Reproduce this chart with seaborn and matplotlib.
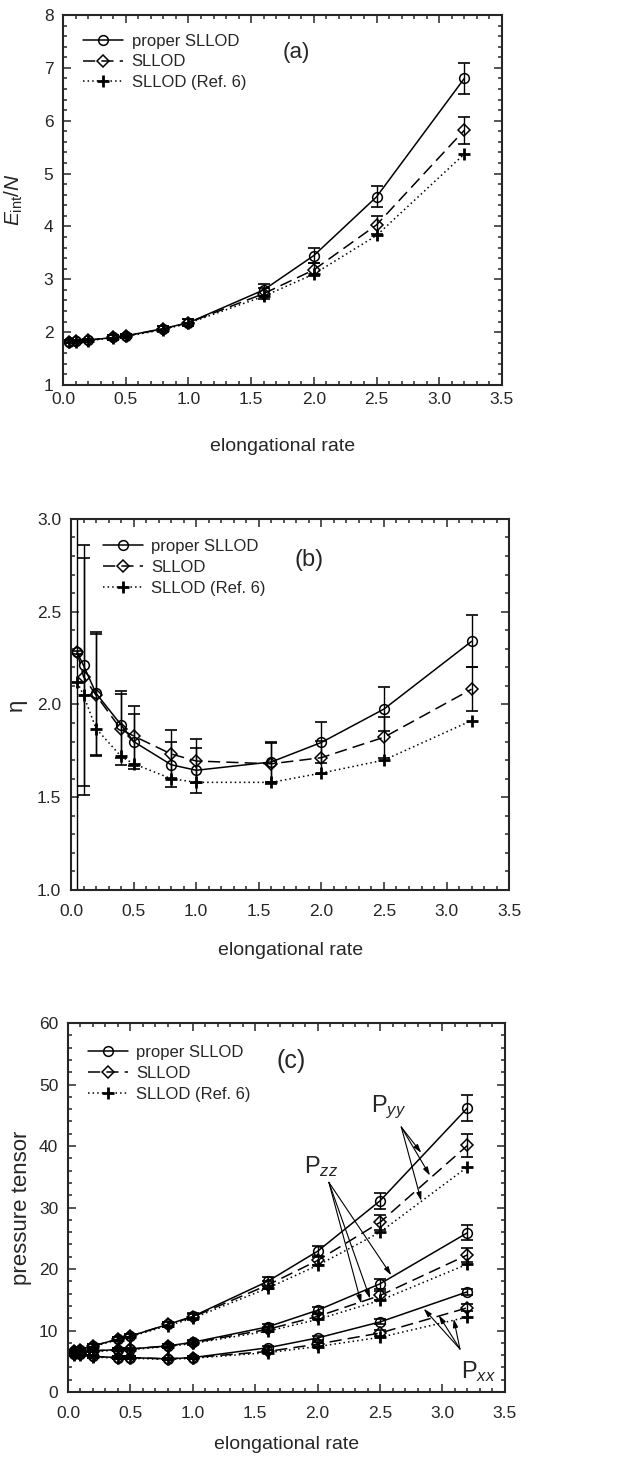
import numpy as np
import matplotlib
matplotlib.use('Agg')
import matplotlib.pyplot as plt
from matplotlib.ticker import MultipleLocator, FormatStrFormatter
import seaborn as sns

# elongational rates shared by every series
rate = [0.05, 0.1, 0.2, 0.4, 0.5, 0.8, 1.0, 1.6, 2.0, 2.5, 3.2]
series_names = ['proper SLLOD', 'SLLOD', 'SLLOD (Ref. 6)']

# (a) internal energy per molecule
e_proper = [1.82, 1.83, 1.85, 1.90, 1.93, 2.07, 2.18, 2.80, 3.45, 4.56, 6.80]
e_proper_err = [0.03, 0.03, 0.03, 0.04, 0.04, 0.05, 0.07, 0.12, 0.14, 0.20, 0.30]
e_sllod = [1.82, 1.83, 1.85, 1.90, 1.93, 2.06, 2.18, 2.73, 3.18, 4.03, 5.82]
e_sllod_err = [0.03, 0.03, 0.03, 0.04, 0.04, 0.05, 0.07, 0.10, 0.12, 0.17, 0.26]
e_ref6 = [1.81, 1.82, 1.84, 1.89, 1.92, 2.05, 2.17, 2.68, 3.10, 3.83, 5.37]

# (b) viscosity
eta_proper = [2.28, 2.21, 2.06, 1.89, 1.80, 1.675, 1.645, 1.69, 1.795, 1.975, 2.34]
eta_proper_err = [1.50, 0.65, 0.33, 0.18, 0.15, 0.12, 0.12, 0.11, 0.11, 0.12, 0.14]
eta_sllod = [2.28, 2.15, 2.05, 1.865, 1.83, 1.733, 1.695, 1.68, 1.713, 1.823, 2.082]
eta_sllod_err = [0.01, 0.64, 0.33, 0.19, 0.16, 0.13, 0.12, 0.11, 0.09, 0.11, 0.12]
eta_ref6 = [2.12, 2.05, 1.87, 1.72, 1.68, 1.60, 1.58, 1.58, 1.63, 1.70, 1.913]

# (c) pressure tensor components
pyy_proper = [6.7, 6.9, 7.5, 8.6, 9.1, 11.0, 12.3, 18.0, 22.9, 31.1, 46.2]
pyy_proper_err = [0.2, 0.2, 0.3, 0.3, 0.3, 0.4, 0.5, 0.7, 0.9, 1.3, 2.1]
pyy_sllod = [6.7, 6.9, 7.5, 8.6, 9.1, 11.0, 12.2, 17.4, 21.4, 27.6, 40.1]
pyy_sllod_err = [0.2, 0.2, 0.3, 0.3, 0.3, 0.4, 0.5, 0.6, 0.8, 1.2, 1.9]
pyy_ref6 = [6.6, 6.8, 7.4, 8.5, 9.0, 10.8, 12.0, 16.9, 20.6, 26.0, 36.6]

pzz_proper = [6.3, 6.4, 6.7, 6.9, 7.0, 7.5, 8.1, 10.6, 13.3, 17.6, 25.9]
pzz_proper_err = [0.2, 0.2, 0.2, 0.2, 0.2, 0.3, 0.3, 0.4, 0.6, 0.8, 1.2]
pzz_sllod = [6.3, 6.4, 6.7, 6.9, 7.0, 7.5, 8.0, 10.2, 12.3, 15.7, 22.3]
pzz_sllod_err = [0.2, 0.2, 0.2, 0.2, 0.2, 0.3, 0.3, 0.4, 0.5, 0.7, 1.1]
pzz_ref6 = [6.2, 6.3, 6.6, 6.8, 6.9, 7.4, 7.9, 9.9, 11.8, 14.9, 20.8]

pxx_proper = [6.2, 6.2, 5.8, 5.6, 5.6, 5.4, 5.6, 7.2, 8.8, 11.4, 16.3]
pxx_proper_err = [0.2, 0.2, 0.2, 0.2, 0.2, 0.2, 0.2, 0.3, 0.3, 0.4, 0.5]
pxx_sllod = [6.2, 6.2, 5.8, 5.6, 5.6, 5.4, 5.6, 6.6, 7.8, 9.6, 13.7]
pxx_sllod_err = [0.2, 0.2, 0.2, 0.2, 0.2, 0.2, 0.2, 0.3, 0.3, 0.5, 0.6]
pxx_ref6 = [6.1, 6.1, 5.7, 5.5, 5.5, 5.3, 5.5, 6.4, 7.4, 8.9, 12.2]

# annotation labels in (c): text, text position, arrow start, arrow tips
pyy_label = ('P$_{yy}$', (2.43, 46.3), (2.67, 43.1),
             [(2.83, 38.9), (2.90, 35.2), (2.83, 31.1)])
pzz_label = ('P$_{zz}$', (1.89, 36.6), (2.09, 34.1),
             [(2.59, 19.0), (2.42, 15.2), (2.35, 14.4)])
pxx_label = ('P$_{xx}$', (3.15, 3.3), (3.14, 7.0),
             [(2.85, 13.55), (2.97, 12.5), (3.09, 11.9)])

sns.set_style('ticks')
plt.rcParams['font.family'] = ['Liberation Sans', 'DejaVu Sans']
plt.rcParams['mathtext.fontset'] = 'custom'
plt.rcParams['mathtext.rm'] = 'Liberation Sans'
plt.rcParams['mathtext.it'] = 'Liberation Sans:italic'
plt.rcParams['axes.linewidth'] = 1.5

STYLES = [
    dict(linestyle='-', marker='o', markersize=7, mew=1.1),
    dict(linestyle=(0, (8, 4)), marker='D', markersize=6, mew=1.1),
    dict(linestyle=(0, (1, 2)), marker='+', markersize=8, mew=2.0),
]


def draw_group(ax, ys, errs, legend=True):
    """Draw the three simulation variants for one quantity."""
    for i, y in enumerate(ys):
        st = STYLES[i]
        label = series_names[i] if legend else '_nolegend_'
        sns.lineplot(x=rate, y=y, ax=ax, color='k', lw=1.1, errorbar=None,
                     linestyle=st['linestyle'], marker=st['marker'],
                     markersize=st['markersize'], mfc='none', mec='k',
                     mew=st['mew'], label=label)
        if errs[i] is not None:
            ax.errorbar(rate, y, yerr=errs[i], fmt='none', ecolor='k',
                        elinewidth=1.0, capsize=4.5, capthick=1.2)


def style_axes(ax, ylim, ymajor, yminor, xlabel_y, ylabel_x, pad):
    ax.set_xlim(0, 3.5)
    ax.set_ylim(*ylim)
    ax.xaxis.set_major_locator(MultipleLocator(0.5))
    ax.xaxis.set_minor_locator(MultipleLocator(0.1))
    ax.yaxis.set_major_locator(MultipleLocator(ymajor))
    ax.yaxis.set_minor_locator(MultipleLocator(yminor))
    ax.tick_params(which='both', direction='in', top=True, right=True,
                   labelsize=12.5, width=1.1)
    ax.tick_params(which='major', length=6)
    ax.tick_params(which='minor', length=3)
    ax.tick_params(axis='x', pad=pad)
    ax.tick_params(axis='y', pad=7)
    ax.xaxis.set_major_formatter(FormatStrFormatter('%.1f'))
    ax.set_xlabel('elongational rate', fontsize=14)
    ax.xaxis.set_label_coords(0.5, xlabel_y)
    ax.yaxis.set_label_coords(ylabel_x, 0.5)
    for sp in ax.spines.values():
        sp.set_visible(True)


def add_legend(ax, x0, y0):
    ax.legend(loc='upper left', bbox_to_anchor=(x0, y0), frameon=False,
              fontsize=12, handlelength=2.4, handletextpad=0.5,
              labelspacing=0.35, borderpad=0, borderaxespad=0)


fig = plt.figure(figsize=(6.25, 14.63), dpi=100)

# panel (a)
ax_a = fig.add_axes([0.101, 0.7368, 0.702, 0.2529])
draw_group(ax_a, [e_proper, e_sllod, e_ref6], [e_proper_err, e_sllod_err, None])
style_axes(ax_a, (1, 8), 1, 0.2, -0.142, -0.087, 5)
ax_a.yaxis.set_major_formatter(FormatStrFormatter('%d'))
ax_a.set_ylabel(r'$E_{\rm int}/N$', fontsize=15)
add_legend(ax_a, 0.046, 0.95)
ax_a.text(1.86, 7.3, '(a)', fontsize=16, ha='center', va='center')

# panel (b)
ax_b = fig.add_axes([0.1136, 0.3917, 0.701, 0.2536])
draw_group(ax_b, [eta_proper, eta_sllod, eta_ref6],
           [eta_proper_err, eta_sllod_err, None])
style_axes(ax_b, (1.0, 3.0), 0.5, 0.1, -0.14, -0.10, 10)
ax_b.yaxis.set_major_formatter(FormatStrFormatter('%.1f'))
ax_b.set_ylabel('η', fontsize=16)
add_legend(ax_b, 0.073, 0.945)
ax_b.text(1.9, 2.78, '(b)', fontsize=17, ha='center', va='center')

# panel (c)
ax_c = fig.add_axes([0.1088, 0.0485, 0.699, 0.2522])
draw_group(ax_c, [pyy_proper, pyy_sllod, pyy_ref6],
           [pyy_proper_err, pyy_sllod_err, None])
draw_group(ax_c, [pzz_proper, pzz_sllod, pzz_ref6],
           [pzz_proper_err, pzz_sllod_err, None], legend=False)
draw_group(ax_c, [pxx_proper, pxx_sllod, pxx_ref6],
           [pxx_proper_err, pxx_sllod_err, None], legend=False)
style_axes(ax_c, (0, 60), 10, 2, -0.118, -0.082, 10)
ax_c.yaxis.set_major_formatter(FormatStrFormatter('%d'))
ax_c.set_ylabel('pressure tensor', fontsize=16)
add_legend(ax_c, 0.046, 0.94)
ax_c.text(1.79, 53.9, '(c)', fontsize=18, ha='center', va='center')

for text, tpos, start, tips in [pyy_label, pzz_label, pxx_label]:
    ax_c.text(tpos[0], tpos[1], text, fontsize=17, ha='left', va='center')
    for tip in tips:
        ax_c.annotate('', xy=tip, xytext=start,
                      arrowprops=dict(arrowstyle='-|>,head_length=0.5,head_width=0.15',
                                      color='k', lw=0.8, shrinkA=0, shrinkB=0))

fig.savefig('out.png', dpi=100)
